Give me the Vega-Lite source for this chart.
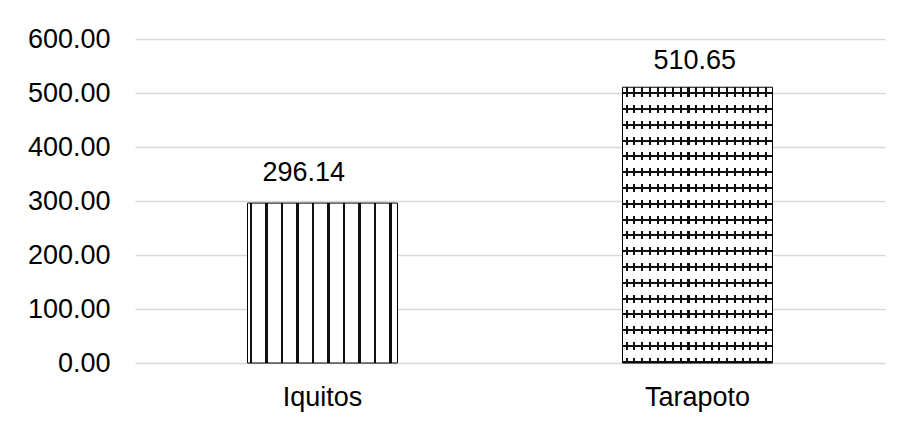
{
  "$schema": "https://vega.github.io/schema/vega-lite/v6.json",
  "width": 750,
  "height": 324,
  "autosize": {"type": "none"},
  "padding": {"left": 135, "top": 39, "right": 14, "bottom": 59},
  "background": "white",
  "config": {"font": "Liberation Sans", "view": {"stroke": null}},
  "data": {"values": [
    {"city": "Iquitos", "value": 296.14},
    {"city": "Tarapoto", "value": 510.65}
  ]},
  "encoding": {
    "x": {"field": "city", "type": "nominal", "sort": null,
      "scale": {"domain": ["Iquitos", "Tarapoto"], "paddingInner": 0.6, "paddingOuter": 0.3},
      "axis": {"title": null, "labelAngle": 0, "ticks": false, "domain": false, "grid": false,
        "labelPadding": 21, "labelFontSize": 27, "labelColor": "#000", "labelFont": "Liberation Sans"}},
    "y": {"field": "value", "type": "quantitative",
      "scale": {"domain": [0, 600], "nice": false},
      "axis": {"title": null, "values": [0, 100, 200, 300, 400, 500, 600], "format": ".2f",
        "ticks": false, "domain": false, "labelPadding": 25, "labelFontSize": 27, "labelColor": "#000",
        "labelFont": "Liberation Sans", "gridColor": "#d9d9d9", "gridWidth": 1.3}}
  },
  "layer": [
    {
      "transform": [{"filter": "datum.city === 'Iquitos'"}],
      "mark": {"type": "bar", "stroke": "#000", "strokeWidth": 1,
        "fill": {"gradient": "linear", "x1": 0, "y1": 0, "x2": 1, "y2": 0, "stops": [
          {"offset": 0, "color": "#fff"},
          {"offset": 0.015, "color": "#fff"}, {"offset": 0.015, "color": "#111"}, {"offset": 0.03167, "color": "#111"}, {"offset": 0.03167, "color": "#fff"},
          {"offset": 0.11833, "color": "#fff"}, {"offset": 0.11833, "color": "#111"}, {"offset": 0.135, "color": "#111"}, {"offset": 0.135, "color": "#fff"},
          {"offset": 0.22167, "color": "#fff"}, {"offset": 0.22167, "color": "#111"}, {"offset": 0.23833, "color": "#111"}, {"offset": 0.23833, "color": "#fff"},
          {"offset": 0.325, "color": "#fff"}, {"offset": 0.325, "color": "#111"}, {"offset": 0.34167, "color": "#111"}, {"offset": 0.34167, "color": "#fff"},
          {"offset": 0.42833, "color": "#fff"}, {"offset": 0.42833, "color": "#111"}, {"offset": 0.445, "color": "#111"}, {"offset": 0.445, "color": "#fff"},
          {"offset": 0.53167, "color": "#fff"}, {"offset": 0.53167, "color": "#111"}, {"offset": 0.54833, "color": "#111"}, {"offset": 0.54833, "color": "#fff"},
          {"offset": 0.635, "color": "#fff"}, {"offset": 0.635, "color": "#111"}, {"offset": 0.65167, "color": "#111"}, {"offset": 0.65167, "color": "#fff"},
          {"offset": 0.73833, "color": "#fff"}, {"offset": 0.73833, "color": "#111"}, {"offset": 0.755, "color": "#111"}, {"offset": 0.755, "color": "#fff"},
          {"offset": 0.84167, "color": "#fff"}, {"offset": 0.84167, "color": "#111"}, {"offset": 0.85833, "color": "#111"}, {"offset": 0.85833, "color": "#fff"},
          {"offset": 0.945, "color": "#fff"}, {"offset": 0.945, "color": "#111"}, {"offset": 0.96167, "color": "#111"}, {"offset": 0.96167, "color": "#fff"},
          {"offset": 1, "color": "#fff"}
        ]}}
    },
    {
      "transform": [{"filter": "datum.city === 'Tarapoto'"}],
      "mark": {"type": "bar", "strokeWidth": 0,
        "fill": {"gradient": "linear", "x1": 0, "y1": 0, "x2": 1, "y2": 0, "stops": [
          {"offset": 0, "color": "#fff"},
          {"offset": 0.02133, "color": "#fff"}, {"offset": 0.02133, "color": "#111"}, {"offset": 0.03467, "color": "#111"}, {"offset": 0.03467, "color": "#fff"},
          {"offset": 0.0728, "color": "#fff"}, {"offset": 0.0728, "color": "#111"}, {"offset": 0.08613, "color": "#111"}, {"offset": 0.08613, "color": "#fff"},
          {"offset": 0.12433, "color": "#fff"}, {"offset": 0.12433, "color": "#111"}, {"offset": 0.13767, "color": "#111"}, {"offset": 0.13767, "color": "#fff"},
          {"offset": 0.1758, "color": "#fff"}, {"offset": 0.1758, "color": "#111"}, {"offset": 0.18913, "color": "#111"}, {"offset": 0.18913, "color": "#fff"},
          {"offset": 0.22733, "color": "#fff"}, {"offset": 0.22733, "color": "#111"}, {"offset": 0.24067, "color": "#111"}, {"offset": 0.24067, "color": "#fff"},
          {"offset": 0.2788, "color": "#fff"}, {"offset": 0.2788, "color": "#111"}, {"offset": 0.29213, "color": "#111"}, {"offset": 0.29213, "color": "#fff"},
          {"offset": 0.33033, "color": "#fff"}, {"offset": 0.33033, "color": "#111"}, {"offset": 0.34367, "color": "#111"}, {"offset": 0.34367, "color": "#fff"},
          {"offset": 0.3818, "color": "#fff"}, {"offset": 0.3818, "color": "#111"}, {"offset": 0.39513, "color": "#111"}, {"offset": 0.39513, "color": "#fff"},
          {"offset": 0.43333, "color": "#fff"}, {"offset": 0.43333, "color": "#111"}, {"offset": 0.44667, "color": "#111"}, {"offset": 0.44667, "color": "#fff"},
          {"offset": 0.4848, "color": "#fff"}, {"offset": 0.4848, "color": "#111"}, {"offset": 0.49813, "color": "#111"}, {"offset": 0.49813, "color": "#fff"},
          {"offset": 0.53633, "color": "#fff"}, {"offset": 0.53633, "color": "#111"}, {"offset": 0.54967, "color": "#111"}, {"offset": 0.54967, "color": "#fff"},
          {"offset": 0.5878, "color": "#fff"}, {"offset": 0.5878, "color": "#111"}, {"offset": 0.60113, "color": "#111"}, {"offset": 0.60113, "color": "#fff"},
          {"offset": 0.63933, "color": "#fff"}, {"offset": 0.63933, "color": "#111"}, {"offset": 0.65267, "color": "#111"}, {"offset": 0.65267, "color": "#fff"},
          {"offset": 0.6908, "color": "#fff"}, {"offset": 0.6908, "color": "#111"}, {"offset": 0.70413, "color": "#111"}, {"offset": 0.70413, "color": "#fff"},
          {"offset": 0.74233, "color": "#fff"}, {"offset": 0.74233, "color": "#111"}, {"offset": 0.75567, "color": "#111"}, {"offset": 0.75567, "color": "#fff"},
          {"offset": 0.7938, "color": "#fff"}, {"offset": 0.7938, "color": "#111"}, {"offset": 0.80713, "color": "#111"}, {"offset": 0.80713, "color": "#fff"},
          {"offset": 0.84533, "color": "#fff"}, {"offset": 0.84533, "color": "#111"}, {"offset": 0.85867, "color": "#111"}, {"offset": 0.85867, "color": "#fff"},
          {"offset": 0.8968, "color": "#fff"}, {"offset": 0.8968, "color": "#111"}, {"offset": 0.91013, "color": "#111"}, {"offset": 0.91013, "color": "#fff"},
          {"offset": 0.94833, "color": "#fff"}, {"offset": 0.94833, "color": "#111"}, {"offset": 0.96167, "color": "#111"}, {"offset": 0.96167, "color": "#fff"},
          {"offset": 1, "color": "#fff"}
        ]}}
    },
    {
      "transform": [{"filter": "datum.city === 'Tarapoto'"}],
      "mark": {"type": "bar", "strokeWidth": 0,
        "fill": {"gradient": "linear", "x1": 0, "y1": 0, "x2": 0, "y2": 1, "stops": [
          {"offset": 0, "color": "rgba(255,255,255,0)"}, {"offset": 0.03645, "color": "rgba(255,255,255,0)"},
          {"offset": 0.03645, "color": "#fff"}, {"offset": 0.06473, "color": "#fff"}, {"offset": 0.06473, "color": "rgba(255,255,255,0)"}, {"offset": 0.09374, "color": "rgba(255,255,255,0)"},
          {"offset": 0.09374, "color": "#fff"}, {"offset": 0.12203, "color": "#fff"}, {"offset": 0.12203, "color": "rgba(255,255,255,0)"}, {"offset": 0.15104, "color": "rgba(255,255,255,0)"},
          {"offset": 0.15104, "color": "#fff"}, {"offset": 0.17933, "color": "#fff"}, {"offset": 0.17933, "color": "rgba(255,255,255,0)"}, {"offset": 0.20834, "color": "rgba(255,255,255,0)"},
          {"offset": 0.20834, "color": "#fff"}, {"offset": 0.23663, "color": "#fff"}, {"offset": 0.23663, "color": "rgba(255,255,255,0)"}, {"offset": 0.26564, "color": "rgba(255,255,255,0)"},
          {"offset": 0.26564, "color": "#fff"}, {"offset": 0.29393, "color": "#fff"}, {"offset": 0.29393, "color": "rgba(255,255,255,0)"}, {"offset": 0.32294, "color": "rgba(255,255,255,0)"},
          {"offset": 0.32294, "color": "#fff"}, {"offset": 0.35122, "color": "#fff"}, {"offset": 0.35122, "color": "rgba(255,255,255,0)"}, {"offset": 0.38024, "color": "rgba(255,255,255,0)"},
          {"offset": 0.38024, "color": "#fff"}, {"offset": 0.40852, "color": "#fff"}, {"offset": 0.40852, "color": "rgba(255,255,255,0)"}, {"offset": 0.43753, "color": "rgba(255,255,255,0)"},
          {"offset": 0.43753, "color": "#fff"}, {"offset": 0.46582, "color": "#fff"}, {"offset": 0.46582, "color": "rgba(255,255,255,0)"}, {"offset": 0.49483, "color": "rgba(255,255,255,0)"},
          {"offset": 0.49483, "color": "#fff"}, {"offset": 0.52312, "color": "#fff"}, {"offset": 0.52312, "color": "rgba(255,255,255,0)"}, {"offset": 0.55213, "color": "rgba(255,255,255,0)"},
          {"offset": 0.55213, "color": "#fff"}, {"offset": 0.58042, "color": "#fff"}, {"offset": 0.58042, "color": "rgba(255,255,255,0)"}, {"offset": 0.60943, "color": "rgba(255,255,255,0)"},
          {"offset": 0.60943, "color": "#fff"}, {"offset": 0.63772, "color": "#fff"}, {"offset": 0.63772, "color": "rgba(255,255,255,0)"}, {"offset": 0.66673, "color": "rgba(255,255,255,0)"},
          {"offset": 0.66673, "color": "#fff"}, {"offset": 0.69501, "color": "#fff"}, {"offset": 0.69501, "color": "rgba(255,255,255,0)"}, {"offset": 0.72403, "color": "rgba(255,255,255,0)"},
          {"offset": 0.72403, "color": "#fff"}, {"offset": 0.75231, "color": "#fff"}, {"offset": 0.75231, "color": "rgba(255,255,255,0)"}, {"offset": 0.78132, "color": "rgba(255,255,255,0)"},
          {"offset": 0.78132, "color": "#fff"}, {"offset": 0.80961, "color": "#fff"}, {"offset": 0.80961, "color": "rgba(255,255,255,0)"}, {"offset": 0.83862, "color": "rgba(255,255,255,0)"},
          {"offset": 0.83862, "color": "#fff"}, {"offset": 0.86691, "color": "#fff"}, {"offset": 0.86691, "color": "rgba(255,255,255,0)"}, {"offset": 0.89592, "color": "rgba(255,255,255,0)"},
          {"offset": 0.89592, "color": "#fff"}, {"offset": 0.92421, "color": "#fff"}, {"offset": 0.92421, "color": "rgba(255,255,255,0)"}, {"offset": 0.95322, "color": "rgba(255,255,255,0)"},
          {"offset": 0.95322, "color": "#fff"}, {"offset": 0.98151, "color": "#fff"}, {"offset": 0.98151, "color": "rgba(255,255,255,0)"}, {"offset": 1, "color": "rgba(255,255,255,0)"}
        ]}}
    },
    {
      "transform": [{"filter": "datum.city === 'Tarapoto'"}],
      "mark": {"type": "bar", "stroke": "#000", "strokeWidth": 1,
        "fill": {"gradient": "linear", "x1": 0, "y1": 0, "x2": 0, "y2": 1, "stops": [
          {"offset": 0, "color": "rgba(0,0,0,0)"},
          {"offset": 0.018314, "color": "rgba(0,0,0,0)"}, {"offset": 0.018314, "color": "#111"}, {"offset": 0.025567, "color": "#111"}, {"offset": 0.025567, "color": "rgba(0,0,0,0)"},
          {"offset": 0.075612, "color": "rgba(0,0,0,0)"}, {"offset": 0.075612, "color": "#111"}, {"offset": 0.082865, "color": "#111"}, {"offset": 0.082865, "color": "rgba(0,0,0,0)"},
          {"offset": 0.13291, "color": "rgba(0,0,0,0)"}, {"offset": 0.13291, "color": "#111"}, {"offset": 0.140163, "color": "#111"}, {"offset": 0.140163, "color": "rgba(0,0,0,0)"},
          {"offset": 0.190208, "color": "rgba(0,0,0,0)"}, {"offset": 0.190208, "color": "#111"}, {"offset": 0.197461, "color": "#111"}, {"offset": 0.197461, "color": "rgba(0,0,0,0)"},
          {"offset": 0.247507, "color": "rgba(0,0,0,0)"}, {"offset": 0.247507, "color": "#111"}, {"offset": 0.25476, "color": "#111"}, {"offset": 0.25476, "color": "rgba(0,0,0,0)"},
          {"offset": 0.304805, "color": "rgba(0,0,0,0)"}, {"offset": 0.304805, "color": "#111"}, {"offset": 0.312058, "color": "#111"}, {"offset": 0.312058, "color": "rgba(0,0,0,0)"},
          {"offset": 0.362103, "color": "rgba(0,0,0,0)"}, {"offset": 0.362103, "color": "#111"}, {"offset": 0.369356, "color": "#111"}, {"offset": 0.369356, "color": "rgba(0,0,0,0)"},
          {"offset": 0.419402, "color": "rgba(0,0,0,0)"}, {"offset": 0.419402, "color": "#111"}, {"offset": 0.426655, "color": "#111"}, {"offset": 0.426655, "color": "rgba(0,0,0,0)"},
          {"offset": 0.4767, "color": "rgba(0,0,0,0)"}, {"offset": 0.4767, "color": "#111"}, {"offset": 0.483953, "color": "#111"}, {"offset": 0.483953, "color": "rgba(0,0,0,0)"},
          {"offset": 0.533998, "color": "rgba(0,0,0,0)"}, {"offset": 0.533998, "color": "#111"}, {"offset": 0.541251, "color": "#111"}, {"offset": 0.541251, "color": "rgba(0,0,0,0)"},
          {"offset": 0.591296, "color": "rgba(0,0,0,0)"}, {"offset": 0.591296, "color": "#111"}, {"offset": 0.598549, "color": "#111"}, {"offset": 0.598549, "color": "rgba(0,0,0,0)"},
          {"offset": 0.648595, "color": "rgba(0,0,0,0)"}, {"offset": 0.648595, "color": "#111"}, {"offset": 0.655848, "color": "#111"}, {"offset": 0.655848, "color": "rgba(0,0,0,0)"},
          {"offset": 0.705893, "color": "rgba(0,0,0,0)"}, {"offset": 0.705893, "color": "#111"}, {"offset": 0.713146, "color": "#111"}, {"offset": 0.713146, "color": "rgba(0,0,0,0)"},
          {"offset": 0.763191, "color": "rgba(0,0,0,0)"}, {"offset": 0.763191, "color": "#111"}, {"offset": 0.770444, "color": "#111"}, {"offset": 0.770444, "color": "rgba(0,0,0,0)"},
          {"offset": 0.82049, "color": "rgba(0,0,0,0)"}, {"offset": 0.82049, "color": "#111"}, {"offset": 0.827743, "color": "#111"}, {"offset": 0.827743, "color": "rgba(0,0,0,0)"},
          {"offset": 0.877788, "color": "rgba(0,0,0,0)"}, {"offset": 0.877788, "color": "#111"}, {"offset": 0.885041, "color": "#111"}, {"offset": 0.885041, "color": "rgba(0,0,0,0)"},
          {"offset": 0.935086, "color": "rgba(0,0,0,0)"}, {"offset": 0.935086, "color": "#111"}, {"offset": 0.942339, "color": "#111"}, {"offset": 0.942339, "color": "rgba(0,0,0,0)"},
          {"offset": 0.992384, "color": "rgba(0,0,0,0)"}, {"offset": 0.992384, "color": "#111"}, {"offset": 1, "color": "#111"}
        ]}}
    },
    {
      "transform": [{"filter": "datum.city === 'Iquitos'"}],
      "mark": {"type": "text", "baseline": "alphabetic", "align": "center", "fontSize": 27, "font": "Liberation Sans", "color": "#000", "dx": -18.7, "dy": -22.4},
      "encoding": {"text": {"field": "value", "type": "quantitative", "format": ".2f"}}
    },
    {
      "transform": [{"filter": "datum.city === 'Tarapoto'"}],
      "mark": {"type": "text", "baseline": "alphabetic", "align": "center", "fontSize": 27, "font": "Liberation Sans", "color": "#000", "dx": -2.7, "dy": -18},
      "encoding": {"text": {"field": "value", "type": "quantitative", "format": ".2f"}}
    }
  ]
}
